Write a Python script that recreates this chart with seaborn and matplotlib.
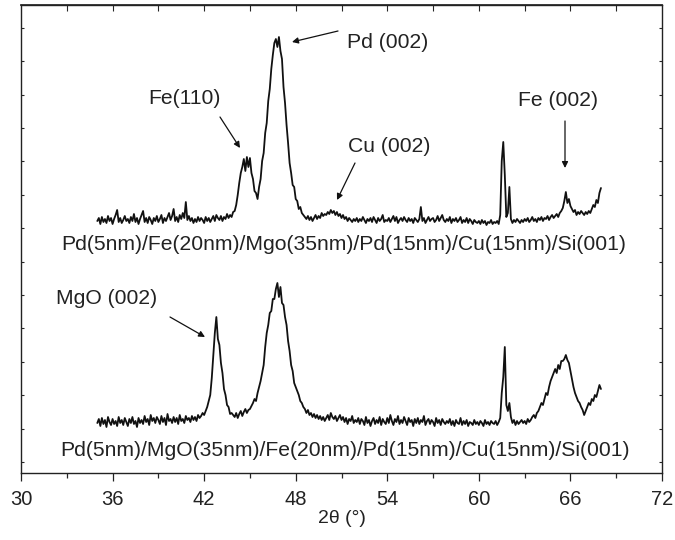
import numpy as np
import pandas as pd
import matplotlib as mpl
mpl.use('agg')
import matplotlib.pyplot as plt
from matplotlib.ticker import MultipleLocator
import seaborn as sns

# 2-theta grid (deg), 0.1 deg steps from 35.0 to 68.0
two_theta = np.round(np.arange(350, 681) / 10.0, 1)

# Pd/Fe/MgO/Pd/Cu/Si stack, intensity (a.u.)
top_counts = [
    52, 55, 49, 56, 51, 54, 50, 57, 52, 55,   # 35
    49, 54, 58, 63, 51, 55, 50, 53, 57, 52,   # 36
    54, 50, 56, 52, 59, 51, 55, 49, 54, 58,   # 37
    62, 51, 55, 50, 56, 53, 49, 55, 52, 57,   # 38
    51, 54, 58, 50, 55, 52, 56, 60, 53, 57,   # 39
    64, 52, 56, 51, 58, 54, 60, 55, 71, 53,   # 40
    57, 52, 55, 50, 54, 51, 56, 52, 55, 53,   # 41
    50, 56, 52, 55, 51, 54, 57, 52, 58, 55,   # 42
    53, 57, 52, 56, 54, 59, 55, 58, 56, 61,   # 43
    62, 68, 78, 90, 100, 106, 114, 102, 116, 106,   # 44
    115, 100, 94, 82, 80, 74, 86, 94, 112, 120,     # 45
    140, 150, 172, 184, 204, 218, 230, 234, 226, 236,  # 46
    222, 214, 186, 170, 148, 130, 110, 100, 88, 86,  # 47
    74, 72, 64, 66, 60, 58, 56, 54, 57, 53,   # 48
    56, 52, 55, 58, 54, 57, 55, 60, 57, 59,   # 49
    58, 61, 59, 63, 60, 62, 58, 61, 57, 59,   # 50
    55, 58, 54, 56, 52, 55, 53, 51, 54, 52,   # 51
    55, 51, 54, 52, 56, 53, 50, 54, 52, 55,   # 52
    51, 56, 53, 50, 55, 52, 54, 58, 51, 53,   # 53
    52, 55, 51, 54, 57, 52, 56, 50, 53, 55,   # 54
    52, 56, 53, 51, 55, 52, 54, 50, 55, 53,   # 55
    51, 54, 66, 52, 55, 50, 53, 56, 52, 54,   # 56
    55, 51, 53, 57, 52, 55, 58, 53, 51, 54,   # 57
    52, 56, 50, 54, 52, 55, 51, 53, 56, 50,   # 58
    53, 51, 55, 50, 54, 52, 49, 53, 51, 50,   # 59
    52, 49, 53, 50, 52, 48, 51, 50, 53, 49,   # 60
    51, 50, 52, 49, 58, 112, 131, 98, 56, 60,  # 61
    86, 54, 50, 53, 51, 54, 52, 50, 53, 51,   # 62
    54, 52, 55, 51, 53, 56, 52, 54, 51, 55,   # 63
    53, 56, 52, 55, 54, 57, 53, 56, 58, 55,   # 64
    57, 59, 56, 60, 62, 65, 72, 81, 70, 74,   # 65
    67, 64, 61, 63, 58, 61, 59, 62, 60, 58,   # 66
    61, 59, 62, 60, 64, 68, 66, 73, 70, 80,   # 67
    85,
]

# Pd/MgO/Fe/Pd/Cu/Si stack, intensity (a.u.)
bottom_counts = [
    50, 54, 47, 55, 49, 53, 46, 56, 51, 48,   # 35
    54, 49, 52, 47, 56, 50, 53, 48, 55, 51,   # 36
    47, 54, 50, 56, 49, 52, 46, 55, 50, 53,   # 37
    49, 57, 51, 54, 48, 58, 52, 55, 50, 56,   # 38
    53, 49, 57, 51, 55, 48, 59, 52, 54, 50,   # 39
    56, 51, 55, 49, 58, 52, 54, 50, 57, 53,   # 40
    55, 51, 57, 53, 56, 52, 58, 55, 57, 60,   # 41
    58, 62, 66, 72, 78, 95, 118, 140, 156, 134,  # 42
    128, 110, 100, 84, 78, 68, 66, 59, 60, 58,   # 43
    56, 60, 55, 59, 62, 57, 61, 64, 60, 63,   # 44
    64, 67, 70, 74, 72, 80, 86, 92, 100, 108,   # 45
    126, 140, 148, 160, 162, 174, 174, 184, 190, 176,  # 46
    186, 170, 168, 156, 148, 132, 122, 108, 102, 90,   # 47
    86, 82, 78, 72, 70, 66, 64, 60, 63, 58,   # 48
    60, 56, 59, 55, 58, 54, 57, 53, 56, 52,   # 49
    55, 58, 53, 60, 56, 54, 57, 52, 55, 58,   # 50
    53, 56, 51, 55, 49, 54, 52, 57, 50, 53,   # 51
    51, 55, 49, 54, 52, 48, 56, 50, 53, 47,   # 52
    52, 55, 49, 53, 50, 56, 48, 54, 51, 49,   # 53
    55, 50, 58, 52, 48, 54, 51, 57, 49, 53,   # 54
    50, 56, 52, 48, 55, 51, 53, 47, 54, 50,   # 55
    55, 49, 53, 51, 57, 48, 52, 54, 49, 53,   # 56
    51, 47, 55, 50, 53, 48, 54, 51, 49, 52,   # 57
    50, 54, 48, 52, 47, 53, 50, 49, 55, 48,   # 58
    52, 49, 53, 47, 51, 50, 48, 53, 49, 51,   # 59
    48, 52, 50, 47, 53, 49, 51, 48, 52, 50,   # 60
    49, 52, 48, 51, 55, 80, 96, 126, 68, 62,  # 61
    70, 56, 50, 53, 48, 52, 49, 51, 53, 50,   # 62
    52, 49, 54, 51, 53, 56, 58, 55, 60, 62,   # 63
    66, 70, 68, 74, 80, 78, 86, 92, 96, 100,  # 64
    104, 100, 108, 104, 112, 112, 114, 118, 113, 110,  # 65
    102, 94, 86, 80, 76, 72, 70, 66, 63, 58,  # 66
    62, 66, 70, 68, 74, 72, 78, 76, 82, 88,   # 67
    84,
]

top_label = 'Pd(5nm)/Fe(20nm)/Mgo(35nm)/Pd(15nm)/Cu(15nm)/Si(001)'
bottom_label = 'Pd(5nm)/MgO(35nm)/Fe(20nm)/Pd(15nm)/Cu(15nm)/Si(001)'

top_shift = 200

sns.set_theme(style='ticks')
plt.rcParams['font.family'] = ['Liberation Sans', 'DejaVu Sans']

df = pd.concat([
    pd.DataFrame({'tt': two_theta, 'I': np.array(top_counts) + top_shift, 's': 'top'}),
    pd.DataFrame({'tt': two_theta, 'I': np.array(bottom_counts), 's': 'bottom'}),
])

fig = plt.figure(figsize=(6.75, 5.4), dpi=100)
ax = fig.add_axes([21 / 675, 67 / 540, 641 / 675, 468 / 540])

sns.lineplot(data=df, x='tt', y='I', units='s', estimator=None, sort=False,
             color='#111111', lw=1.3, ax=ax)

ax.set_xlim(30, 72)
ax.set_ylim(0, 468)
ax.xaxis.set_major_locator(MultipleLocator(6))
ax.xaxis.set_minor_locator(MultipleLocator(3))
ax.set_yticks(np.arange(11, 468, 33.4))
ax.tick_params(axis='x', which='major', direction='out', length=6, width=0.9,
               labelsize=14.5, pad=6, colors='#222222')
ax.tick_params(axis='x', which='minor', direction='out', length=3.5, width=0.9)
ax.tick_params(axis='y', left=True, right=True, direction='in', length=2.5,
               width=0.8, labelleft=False)
for sp in ax.spines.values():
    sp.set_linewidth(1.0)
    sp.set_color('#222222')

sec = ax.secondary_xaxis('top')
sec.set_xticks(np.arange(33, 72, 3))
sec.tick_params(direction='in', length=4, width=0.8, labeltop=False)

ax.set_xlabel('2θ (°)', fontsize=14, labelpad=1, color='#222222')
ax.set_ylabel('')


def px(x_pix, y_pix):
    # convert figure-pixel position to data coords
    return 30 + (x_pix - 21) / 641 * 42, 473 - y_pix


arrow = dict(arrowstyle='-|>', color='#111111', lw=0.9, mutation_scale=9,
             shrinkA=0, shrinkB=0)
fs = 15.2
notes = [
    ('Pd (002)', (347, 42), 'left', (338, 31), (292, 42)),
    ('Fe(110)', (184, 99), 'center', (220, 117), (240, 148)),
    ('Cu (002)', (389, 147), 'center', (355, 163), (337, 200)),
    ('Fe (002)', (558, 100), 'center', (565, 121), (565, 168)),
    ('MgO (002)', (107, 299), 'center', (170, 317), (205, 337)),
]
for txt, tpos, ha, a0, a1 in notes:
    ax.text(*px(*tpos), txt, ha=ha, va='center', fontsize=fs, color='#222222')
    ax.annotate('', xy=px(*a1), xytext=px(*a0), arrowprops=arrow)

ax.text(*px(344, 245), top_label, ha='center', va='center', fontsize=fs,
        color='#222222')
ax.text(*px(345, 451), bottom_label, ha='center', va='center', fontsize=fs,
        color='#222222')

fig.savefig('out.png', dpi=100)
